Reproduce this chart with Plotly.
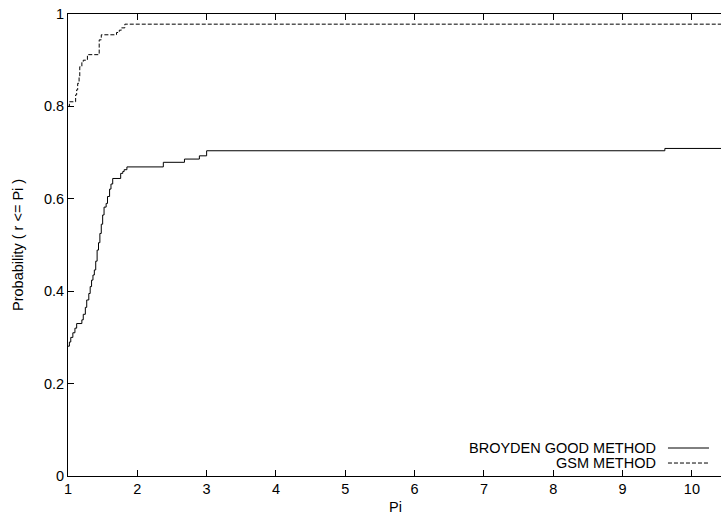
import plotly.graph_objects as go

# ---- data ----
broyden_x = [1.0, 1.02, 1.04, 1.07, 1.10, 1.125, 1.20, 1.22, 1.25, 1.27, 1.30, 1.32, 1.34,
             1.36, 1.38, 1.40, 1.42, 1.44, 1.46, 1.48, 1.50, 1.52, 1.55, 1.57, 1.60, 1.62,
             1.645, 1.76, 1.79, 1.81, 1.85, 2.375, 2.68, 2.895, 3.0, 9.61, 10.6]
broyden_y = [0.281, 0.29, 0.30, 0.31, 0.32, 0.330, 0.338, 0.35, 0.365, 0.381, 0.395, 0.41, 0.424,
             0.435, 0.446, 0.465, 0.489, 0.505, 0.525, 0.545, 0.565, 0.582, 0.590, 0.605, 0.621, 0.632,
             0.644, 0.655, 0.659, 0.663, 0.669, 0.679, 0.686, 0.693, 0.704, 0.709, 0.709]

gsm_x = [1.0, 1.02, 1.11, 1.125, 1.14, 1.16, 1.17, 1.20, 1.22, 1.28, 1.45, 1.48, 1.70,
         1.74, 1.77, 1.82, 10.6]
gsm_y = [0.80, 0.81, 0.825, 0.836, 0.85, 0.865, 0.886, 0.895, 0.90, 0.912, 0.944, 0.955, 0.960,
         0.965, 0.970, 0.978, 0.978]

x_ticks = [1, 2, 3, 4, 5, 6, 7, 8, 9, 10]
y_ticks = [0, 0.2, 0.4, 0.6, 0.8, 1.0]
y_ticktext = ["0", "0.2", "0.4", "0.6", "0.8", "1"]

series_names = ["BROYDEN GOOD METHOD", "GSM METHOD"]
x_title = "Pi"
y_title = "Probability ( r <= Pi )"

FONT = "Liberation Sans, Arial, Helvetica, sans-serif"
FS = 14.5
DASH = "4px,2px"

fig = go.Figure()
fig.add_trace(go.Scatter(x=broyden_x, y=broyden_y, mode="lines", line_shape="hv",
                         line=dict(color="black", width=1), name=series_names[0],
                         showlegend=False))
fig.add_trace(go.Scatter(x=gsm_x, y=gsm_y, mode="lines", line_shape="hv",
                         line=dict(color="black", width=1, dash=DASH), name=series_names[1],
                         showlegend=False))

axis_common = dict(showgrid=False, zeroline=False, showline=True, linecolor="black",
                   linewidth=1, ticks="inside", ticklen=6, tickcolor="black",
                   tickfont=dict(family=FONT, size=FS, color="black"))

fig.update_xaxes(range=[1, 10.42], tickvals=x_ticks, mirror="ticks", **axis_common)
fig.update_yaxes(range=[0, 1], tickvals=y_ticks, ticktext=y_ticktext, **axis_common)

# axis titles
fig.add_annotation(text=x_title, xref="paper", yref="paper", x=0.5008, y=-0.067,
                   xanchor="center", yanchor="middle", showarrow=False,
                   font=dict(family=FONT, size=FS, color="black"))
fig.add_annotation(text=y_title, xref="paper", yref="paper", x=-0.0766, y=0.5,
                   xanchor="center", yanchor="middle", showarrow=False, textangle=-90,
                   font=dict(family=FONT, size=FS, color="black"))

# gnuplot-style legend: text right-aligned, sample to the right
legend_rows_y = [0.0606, 0.0281]
legend_dashes = ["solid", DASH]
for name, yy, dsh in zip(series_names, legend_rows_y, legend_dashes):
    fig.add_annotation(text=name, xref="paper", yref="paper", x=0.9035, y=yy,
                       xanchor="right", yanchor="middle", showarrow=False,
                       font=dict(family=FONT, size=FS, color="black"))
    fig.add_shape(type="line", xref="paper", yref="paper", x0=0.9188, x1=0.9816,
                  y0=yy, y1=yy, line=dict(color="black", width=1, dash=dsh))

fig.update_layout(width=721, height=517, margin=dict(l=68, r=0, t=14, b=41),
                  plot_bgcolor="white", paper_bgcolor="white",
                  font=dict(family=FONT, size=FS, color="black"))

fig.write_html("out.html")
